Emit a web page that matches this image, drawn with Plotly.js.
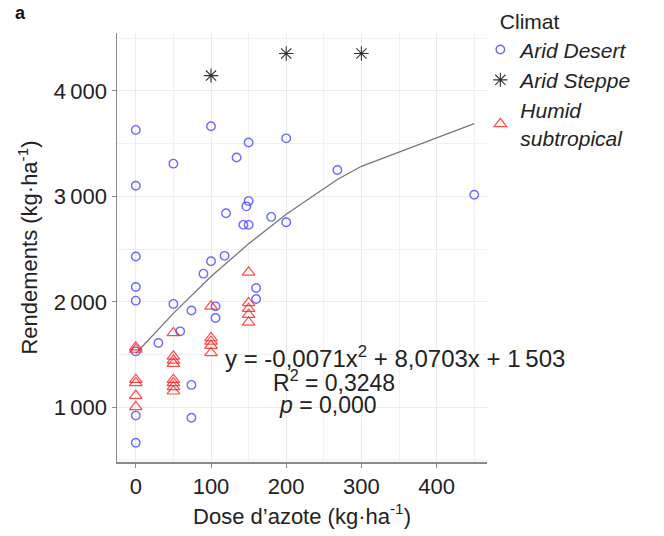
<!DOCTYPE html>
<html>
<head>
<meta charset="utf-8">
<script src="https://cdn.plot.ly/plotly-3.0.1.min.js"></script>
<style>html,body{margin:0;padding:0;background:#fff;}#chart{width:664px;height:536px;}</style>
</head>
<body>
<div id="chart"></div>
<script>
// Arid Desert (open blue circles)
const desertX = [0, 50, 0, 100, 150, 134, 200, 150, 147, 120, 143, 150, 180, 200, 268, 450,
                 0, 0, 0, 50, 74, 90, 100, 118, 106, 106, 59, 30, 0, 160, 160, 74, 74, 0, 0];
const desertY = [3630, 3310, 3100, 3665, 3510, 3368, 3550, 2955, 2905, 2840, 2730, 2730, 2805, 2755, 3250, 3015,
                 2430, 2140, 2011, 1980, 1918, 2267, 2385, 2436, 1957, 1847, 1720, 1610, 1530, 2131, 2027, 1212, 900, 921, 663];
// Arid Steppe (asterisks)
const steppeX = [100, 200, 300];
const steppeY = [4145, 4355, 4355];
// Humid subtropical (open red triangles)
const humidX = [0, 0, 0, 0, 0, 0,
                50, 50, 50, 50, 50, 50, 50, 50,
                100, 100, 100, 100, 100,
                150, 150, 150, 150, 150];
const humidY = [1570, 1548, 1262, 1231, 1111, 1004,
                1705, 1483, 1445, 1414, 1262, 1231, 1193, 1152,
                1957, 1657, 1625, 1585, 1515,
                2280, 1989, 1935, 1878, 1805];
// Fitted curve
const fitX = [0, 50, 100, 150, 200, 268, 300, 450];
const fitY = [1510, 1890, 2240, 2550, 2830, 3160, 3285, 3690];

const xTicks = [0, 100, 200, 300, 400];
const xTickText = ['0', '100', '200', '300', '400'];
const yTicks = [1000, 2000, 3000, 4000];
const yTickText = ['1\u2009000', '2\u2009000', '3\u2009000', '4\u2009000'];
const yMinor = [500, 1500, 2500, 3500, 4500];

const seriesNames = ['Arid Desert', 'Arid Steppe', 'Humid<br>subtropical'];
const legendTitle = '\u00a0\u00a0\u00a0Climat';
const eqLine = 'y = -0,0071x<sup>2</sup> + 8,0703x + 1\u2009503';
const r2Line = 'R<sup>2</sup> = 0,3248';
const pLine = '<i>p</i> = 0,000';

const FONT = 'Liberation Sans, Arial, Helvetica, sans-serif';
const TXT = '#222222';

const traces = [
  {x: fitX, y: fitY, mode: 'lines', type: 'scatter', showlegend: false, hoverinfo: 'skip',
   line: {color: '#777777', width: 1.3}},
  {x: desertX, y: desertY, mode: 'markers', type: 'scatter', name: seriesNames[0],
   marker: {symbol: 'circle-open', size: 8.5, color: 'rgba(50,50,255,0.72)', line: {width: 1.4}}},
  {x: steppeX, y: steppeY, mode: 'markers', type: 'scatter', name: seriesNames[1],
   marker: {symbol: 'asterisk-open', size: 12, color: '#333333', line: {width: 1.1, color: '#333333'}}},
  {x: humidX, y: humidY, mode: 'markers', type: 'scatter', name: seriesNames[2],
   marker: {symbol: 'triangle-up-open', size: 11, color: 'rgba(255,30,30,0.8)', line: {width: 1.2}}}
];

const layout = {
  width: 664, height: 536,
  margin: {l: 117, r: 177, t: 33, b: 74, pad: 0, autoexpand: false},
  paper_bgcolor: '#ffffff', plot_bgcolor: '#ffffff',
  font: {family: FONT, size: 22, color: TXT},
  showlegend: true,
  legend: {x: 0.982, xanchor: 'left', y: 1.072, yanchor: 'top',
           font: {family: FONT, size: 21, color: TXT, style: 'italic'},
           title: {text: legendTitle, font: {family: FONT, size: 21, color: TXT, style: 'normal'}},
           itemwidth: 30, tracegroupgap: 0, bgcolor: 'rgba(0,0,0,0)'},
  xaxis: {range: [-25, 467], tickmode: 'array', tickvals: xTicks, ticktext: xTickText,
          showgrid: true, gridcolor: '#ebebeb', gridwidth: 1,
          minor: {dtick: 50, tick0: 0, showgrid: true, gridcolor: '#f1f1f1', gridwidth: 1},
          showline: true, linecolor: '#8a8a8a', linewidth: 1.5,
          ticks: 'outside', ticklen: 4, tickcolor: '#8a8a8a', tickwidth: 1,
          zeroline: false, tickfont: {size: 22, color: TXT},
          title: {text: 'Dose d\u2019azote (kg\u00b7ha<sup>-1</sup>)', font: {size: 22, color: TXT}, standoff: 10}},
  yaxis: {range: [481, 4549], tickmode: 'array', tickvals: yTicks, ticktext: yTickText,
          showgrid: true, gridcolor: '#ebebeb', gridwidth: 1,
          minor: {tickmode: 'array', tickvals: yMinor, showgrid: true, gridcolor: '#f1f1f1', gridwidth: 1},
          showline: true, linecolor: '#8a8a8a', linewidth: 1.5,
          ticks: 'outside', ticklen: 4, tickcolor: '#8a8a8a', tickwidth: 1,
          zeroline: false, tickfont: {size: 22, color: TXT},
          title: {text: 'Rendements (kg\u00b7ha<sup>-1</sup>)', font: {size: 22, color: TXT}, standoff: 10}},
  annotations: [
    {xref: 'paper', yref: 'paper', x: -0.282, y: 1.075, xanchor: 'left', yanchor: 'top',
     text: '<b>a</b>', showarrow: false, font: {size: 18, color: '#111111'}},
    {xref: 'x', yref: 'y', x: 344, y: 1480, xanchor: 'center', yanchor: 'middle',
     text: eqLine, showarrow: false, font: {size: 24, color: TXT}},
    {xref: 'x', yref: 'y', x: 263, y: 1253, xanchor: 'center', yanchor: 'middle',
     text: r2Line, showarrow: false, font: {size: 23, color: TXT}},
    {xref: 'x', yref: 'y', x: 255, y: 1026, xanchor: 'center', yanchor: 'middle',
     text: pLine, showarrow: false, font: {size: 23, color: TXT}}
  ]
};

Plotly.newPlot('chart', traces, layout, {displayModeBar: false, staticPlot: true});
</script>
</body>
</html>
